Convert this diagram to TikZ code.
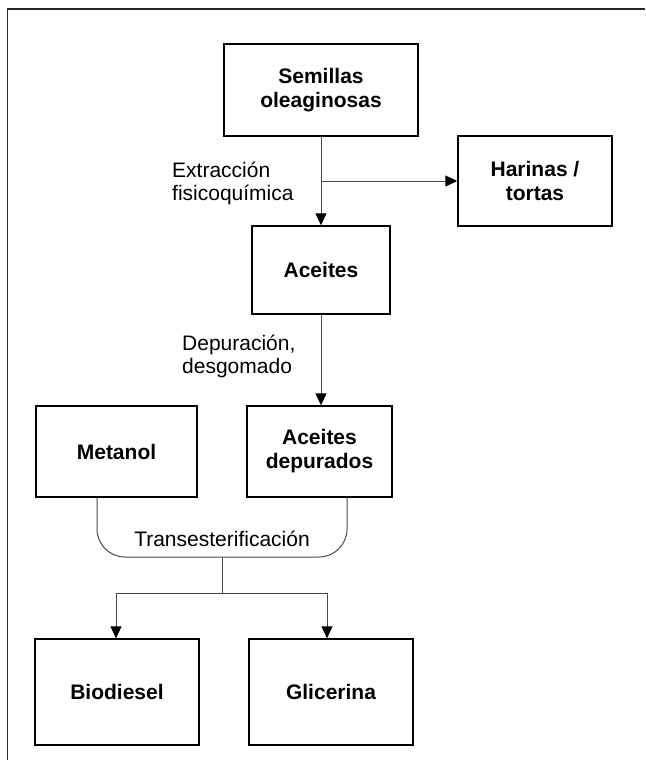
\documentclass[tikz,border=0pt]{standalone}
\usepackage{fontspec}
\setmainfont{Liberation Sans}
\usetikzlibrary{arrows.meta}
\definecolor{conncol}{HTML}{4A4A4A}
\begin{document}
\begin{tikzpicture}[x=1pt,y=-1pt,
  box/.style={draw=black, line width=1.4pt, align=center, inner sep=0pt,
    font=\fontsize{21}{24}\selectfont\bfseries},
  lbl/.style={inner sep=0pt, font=\fontsize{21}{23}\selectfont},
  conn/.style={draw=conncol, line width=1pt},
  arr/.style={conn, -{Triangle[width=11pt,length=12pt,color=black]}},
]
\useasboundingbox (0,0) rectangle (645,760);
\fill[white] (0,0) rectangle (645,760);
% frame (top and left edges)
\draw[line width=1.5pt, draw=black!85] (7.5,760) -- (7.5,9) -- (645,9);

\node[box, minimum width=194pt, minimum height=92pt] (sem) at (321,90) {Semillas\\oleaginosas};
\node[box, minimum width=154pt, minimum height=90pt] (har) at (535,181) {Harinas /\\tortas};
\node[box, minimum width=138pt, minimum height=88pt] (ace) at (321,270) {Aceites};
\node[box, minimum width=161pt, minimum height=91pt] (met) at (116.5,451.5) {Metanol};
\node[box, minimum width=145pt, minimum height=91pt] (acd) at (319.5,451.5) {Aceites\\depurados};
\node[box, minimum width=164pt, minimum height=106pt] (bio) at (117,692) {Biodiesel};
\node[box, minimum width=164pt, minimum height=106pt] (gli) at (331,692) {Glicerina};

% extraction
\coordinate (br) at (321,181);
\draw[arr] (sem) -- (ace);
\draw[arr] (br) -- (har.west);
\node[lbl, anchor=base west, align=left] (lext) at (172,200) {Extracción\\fisicoquímica};

% purification
\draw[arr] (ace.south) -- (ace.south |- acd.north);
\node[lbl, anchor=base west, align=left] (ldep) at (182,373) {Depuración,\\desgomado};

% transesterification join
\coordinate (jl) at (97,557);
\coordinate (jr) at (347,557);
\coordinate (jc) at (222,557);
\coordinate (sp) at (222,593);
\coordinate (sl) at (116,593);
\coordinate (sr) at (327,593);
\draw[conn, rounded corners=28pt] (met.south -| jl) -- (jl) -- (jr) -- (acd.south -| jr);
\node[lbl, anchor=base] (ltr) at (222,546.5) {Transesterificación};
\draw[conn] (jc) -- (sp);
\draw[conn] (sl) -- (sr);
\draw[arr] (sl) -- (sl |- bio.north);
\draw[arr] (sr) -- (sr |- gli.north);
\end{tikzpicture}
\end{document}
